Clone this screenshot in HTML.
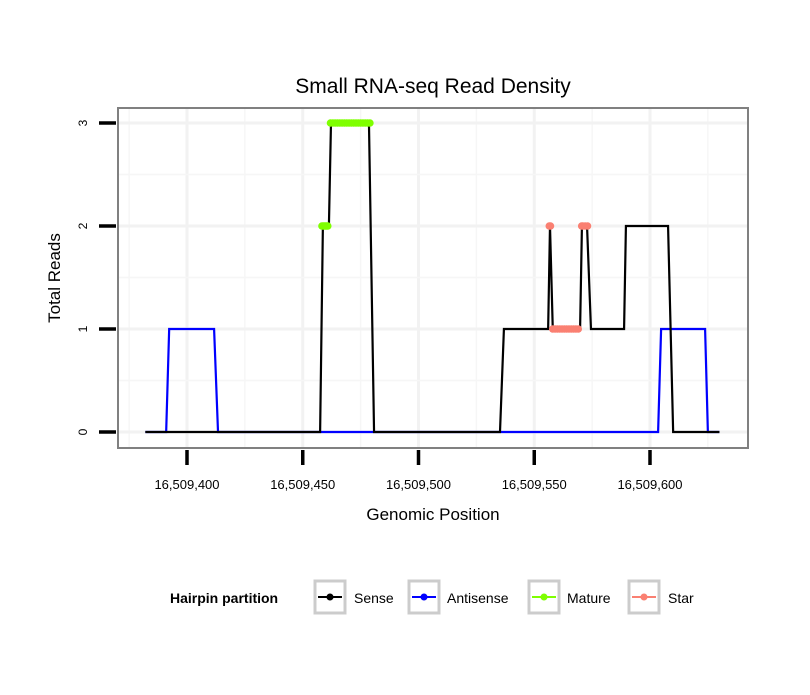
<!DOCTYPE html>
<html><head><meta charset="utf-8"><style>
body{margin:0;background:#fff;}
text{font-family:"Liberation Sans",sans-serif;}
</style></head><body>
<svg id="chart" width="810" height="690" xmlns="http://www.w3.org/2000/svg">
<rect x="0" y="0" width="810" height="690" fill="#fff"/>
<text x="433" y="93" font-size="21" text-anchor="middle">Small RNA-seq Read Density</text>
<g id="grid"></g>
<rect x="118" y="108" width="630" height="340" fill="none" stroke="#808080" stroke-width="2"/>
<g id="series"></g>
<g id="axes"></g>
<text x="433" y="520" font-size="17" text-anchor="middle">Genomic Position</text>
<text transform="translate(60,278) rotate(-90)" font-size="17" text-anchor="middle">Total Reads</text>
<g>
<text x="170" y="603" font-size="14" font-weight="bold">Hairpin partition</text>
<g><rect x="315" y="581" width="30" height="32" fill="#fff" stroke="#ccc" stroke-width="3"/><line x1="318" y1="597" x2="342" y2="597" stroke="#000" stroke-width="2"/><circle cx="330" cy="597" r="3.5" fill="#000"/><text x="354" y="603" font-size="14">Sense</text></g>
<g><rect x="409" y="581" width="30" height="32" fill="#fff" stroke="#ccc" stroke-width="3"/><line x1="412" y1="597" x2="436" y2="597" stroke="#0000ff" stroke-width="2"/><circle cx="424" cy="597" r="3.5" fill="#0000ff"/><text x="447" y="603" font-size="14">Antisense</text></g>
<g><rect x="529" y="581" width="30" height="32" fill="#fff" stroke="#ccc" stroke-width="3"/><line x1="532" y1="597" x2="556" y2="597" stroke="#7fff00" stroke-width="2"/><circle cx="544" cy="597" r="3.5" fill="#7fff00"/><text x="567" y="603" font-size="14">Mature</text></g>
<g><rect x="629" y="581" width="30" height="32" fill="#fff" stroke="#ccc" stroke-width="3"/><line x1="632" y1="597" x2="656" y2="597" stroke="#fa8072" stroke-width="2"/><circle cx="644" cy="597" r="3.5" fill="#fa8072"/><text x="668" y="603" font-size="14">Star</text></g>
</g>
</svg>
<script>
const xTicks=[16509400,16509450,16509500,16509550,16509600];
const xMinor=[16509375,16509425,16509475,16509525,16509575,16509625];
const yTicks=[0,1,2,3];
const senseX=[16509382,16509457.5,16509458.7,16509461.3,16509462.2,16509478.6,16509480.8,16509535.2,16509536.9,16509556,16509556.8,16509558,16509569.8,16509570.6,16509572.8,16509574.5,16509588.8,16509589.6,16509607.8,16509610,16509630];
const senseY=[0,0,2,2,3,3,0,0,1,1,2,1,1,2,2,1,1,2,2,0,0];
const antiX=[16509382,16509391,16509392.3,16509411.7,16509413.4,16509603.5,16509604.8,16509623.8,16509625,16509630];
const antiY=[0,0,1,1,0,0,1,1,0,0];
const matureX=[16509458.3,16509458.8,16509459.3,16509459.8,16509460.3,16509460.8,16509462,16509463,16509464,16509465,16509466,16509467,16509468,16509469,16509470,16509471,16509472,16509473,16509474,16509475,16509476,16509477,16509478,16509479];
const matureY=[2,2,2,2,2,2,3,3,3,3,3,3,3,3,3,3,3,3,3,3,3,3,3,3];
const starX=[16509556.5,16509557,16509558,16509559,16509560,16509561,16509562,16509563,16509564,16509565,16509566,16509567,16509568,16509569,16509570.5,16509571,16509572,16509573];
const starY=[2,2,1,1,1,1,1,1,1,1,1,1,1,1,2,2,2,2];

const X=v=>187+(v-16509400)*2.315;
const Y=v=>432-v*103;
const NS="http://www.w3.org/2000/svg";
function mk(tag,attrs,parent){const e=document.createElementNS(NS,tag);for(const k in attrs)e.setAttribute(k,attrs[k]);parent.appendChild(e);return e;}
const grid=document.getElementById('grid'),axes=document.getElementById('axes'),ser=document.getElementById('series');
xMinor.forEach(v=>{const l=mk('line',{x1:X(v),x2:X(v),y1:108,y2:448,stroke:'#f6f6f6','stroke-width':1.5},grid);

});
xTicks.forEach(v=>{const l=mk('line',{x1:X(v),x2:X(v),y1:108,y2:448,stroke:'#f2f2f2','stroke-width':3},grid);


const t=mk('line',{x1:X(v),x2:X(v),y1:450,y2:465,stroke:'#000','stroke-width':3.5},axes);


const tx=mk('text',{x:X(v),y:489,'font-size':13,'text-anchor':'middle'},axes);
tx.textContent=v.toLocaleString('en-US');

});
[0.5,1.5,2.5].forEach(v=>{const l=mk('line',{x1:118,x2:748,y1:Y(v),y2:Y(v),stroke:'#f6f6f6','stroke-width':1.5},grid);

});
yTicks.forEach(v=>{const l=mk('line',{x1:118,x2:748,y1:Y(v),y2:Y(v),stroke:'#f2f2f2','stroke-width':3},grid);


const t=mk('line',{x1:99,x2:116,y1:Y(v),y2:Y(v),stroke:'#000','stroke-width':3.5},axes);


const tx=mk('text',{transform:`translate(87,${Y(v)}) rotate(-90)`,'font-size':12,'text-anchor':'middle'},axes);
tx.textContent=v;

});
function line(xs,ys,col,name){const p=mk('polyline',{points:xs.map((x,i)=>X(x)+','+Y(ys[i])).join(' '),fill:'none',stroke:col,'stroke-width':2.2},ser);

}
function pts(xs,ys,col,name){
  let seg=[];
  const flush=()=>{if(seg.length>1){const p=mk('polyline',{points:seg.join(' '),fill:'none',stroke:col,'stroke-width':2},ser);
  
  }seg=[];};
  xs.forEach((x,i)=>{if(i>0&&ys[i]!==ys[i-1])flush();seg.push(X(x)+','+Y(ys[i]));});
  flush();
  xs.forEach((x,i)=>{const c=mk('circle',{cx:X(x),cy:Y(ys[i]),r:3.8,fill:col},ser);
  
  });}
line(antiX,antiY,'#0000ff','antisense-line');
line(senseX,senseY,'#000','sense-line');
pts(matureX,matureY,'#7fff00','mature');
pts(starX,starY,'#fa8072','star');
</script>
</body></html>
